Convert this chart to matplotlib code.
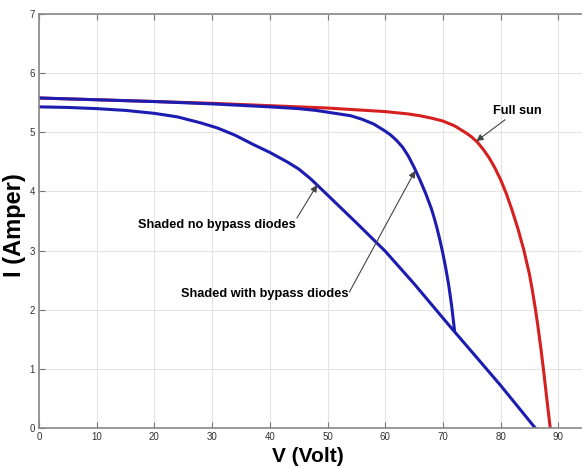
import matplotlib
matplotlib.use('Agg')
import matplotlib.pyplot as plt

plt.rcParams['font.family'] = ['Liberation Sans', 'DejaVu Sans']

# I-V curves of the PV string (V in volt, I in ampere)
v_full = [0, 10, 20, 30, 40, 50, 55, 60, 62, 64, 66, 68, 70, 71, 72, 73, 74, 75, 76, 77, 78, 79, 80, 81, 82, 83,
          84, 85, 85.5, 86, 86.5, 87, 87.5, 88, 88.6]
i_full = [5.58, 5.55, 5.52, 5.49, 5.45, 5.41, 5.38, 5.35, 5.33, 5.31, 5.28, 5.24, 5.19, 5.15, 5.11, 5.05, 4.99,
          4.92, 4.83, 4.71, 4.57, 4.40, 4.20, 3.96, 3.68, 3.37, 3.02, 2.60, 2.33, 2.03, 1.70, 1.33, 0.93, 0.50, 0.0]

v_bypass = [0, 10, 20, 30, 40, 45, 48, 50, 52, 54, 56, 58, 60, 61, 62, 63, 64, 65, 66, 67, 68, 68.5, 69, 69.5,
            70, 70.5, 71, 71.5, 72]
i_bypass = [5.58, 5.55, 5.52, 5.48, 5.43, 5.40, 5.37, 5.34, 5.31, 5.28, 5.22, 5.14, 5.02, 4.95, 4.86, 4.75, 4.60,
            4.41, 4.20, 3.97, 3.71, 3.55, 3.37, 3.17, 2.95, 2.70, 2.42, 2.08, 1.66]

v_nobypass = [0, 5, 10, 15, 20, 24, 28, 31, 34, 37, 40, 43, 45, 47, 50, 55, 60, 65, 70, 72, 75, 80, 86]
i_nobypass = [5.43, 5.42, 5.40, 5.37, 5.32, 5.26, 5.16, 5.07, 4.95, 4.80, 4.66, 4.50, 4.38, 4.22, 3.94, 3.47,
              2.99, 2.44, 1.86, 1.63, 1.29, 0.72, 0.0]

fig = plt.figure(figsize=(5.82, 4.69), dpi=100)
ax = fig.add_axes([39 / 582, 41 / 469, 577 / 582, 414 / 469])

ax.plot(v_full, i_full, color='#d61f1f', lw=2.2, solid_joinstyle='round')
ax.plot(v_bypass, i_bypass, color='#1c1cb0', lw=2.2, solid_joinstyle='round')
ax.plot(v_nobypass, i_nobypass, color='#1c1cb0', lw=2.2, solid_joinstyle='round')

ax.set_xlim(0, 100)
ax.set_ylim(0, 7)
ax.set_xticks(range(0, 100, 10))
ax.set_yticks(range(0, 8))
ax.grid(True, color='#e4e4e4', lw=0.8)
ax.tick_params(direction='in', top=True, right=False, length=4, color='#777777',
               labelsize=7, labelcolor='#333333', pad=3)
for s in ax.spines.values():
    s.set_color('#888888')
    s.set_linewidth(1.2)

ax.set_xlabel('V (Volt)', fontsize=15, fontweight='bold')
ax.xaxis.set_label_coords((308 - 39) / 577, -0.045)
ax.set_ylabel('I (Amper)', fontsize=17, fontweight='bold')
ax.yaxis.set_label_coords(-0.023, (428 - 225) / 414)

arrow = dict(arrowstyle='-|>', color='#444444', lw=0.8, mutation_scale=10, shrinkA=0, shrinkB=0)
ax.annotate('Full sun', xy=(75.8, 4.85), xytext=(78.6, 5.36), fontsize=9.2, fontweight='bold',
            ha='left', va='center', arrowprops=arrow)
ax.annotate('', xy=(48.2, 4.11), xytext=(44.7, 3.55), arrowprops=arrow)
ax.text(30.8, 3.43, 'Shaded no bypass diodes', fontsize=9.2, fontweight='bold', ha='center', va='center')
ax.annotate('', xy=(65.2, 4.35), xytext=(53.8, 2.3), arrowprops=arrow)
ax.text(39.2, 2.27, 'Shaded with bypass diodes', fontsize=9.2, fontweight='bold', ha='center', va='center')

fig.savefig('out.png', dpi=100)
